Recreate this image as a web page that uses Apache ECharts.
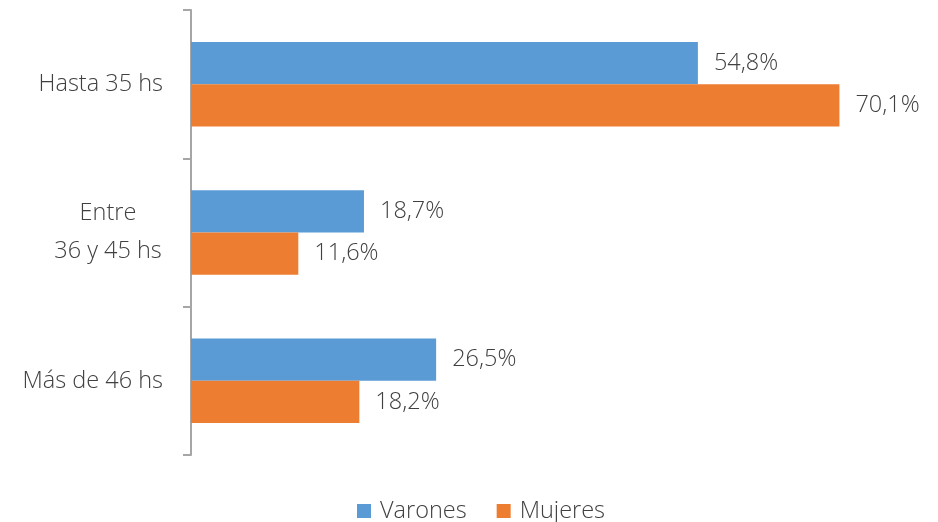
<!DOCTYPE html>
<html lang="es">
<head>
    <meta charset="UTF-8">
    <title>Horas trabajadas por sexo</title>
    <script src="https://cdn.jsdelivr.net/npm/echarts@6/dist/echarts.min.js"></script>
    <style>
        html, body { margin: 0; padding: 0; background: #fff; }
        #main { width: 938px; height: 522px; }
    </style>
</head>
<body>
<div id="main"></div>
<script>
    // datos
    const categories = ['Hasta 35 hs', 'Entre\n36 y 45 hs', 'Más de 46 hs'];
    const varones = [54.8, 18.7, 26.5];
    const mujeres = [70.1, 11.6, 18.2];
    const seriesNames = ['Varones', 'Mujeres'];

    const fontFam = "'Segoe UI', 'Open Sans', 'Noto Sans', sans-serif";
    const txtColor = '#404040';
    const fs = 23.5;

    const chart = echarts.init(document.getElementById('main'));

    const labelOpt = {
        show: true,
        position: 'right',
        distance: 16,
        fontSize: fs,
        fontWeight: 300,
        fontFamily: fontFam,
        color: txtColor,
        formatter: p => p.value.toFixed(1).replace('.', ',') + '%'
    };

    const option = {
        animation: false,
        grid: { left: 191, top: 10, bottom: 67, right: 7 },
        xAxis: {
            type: 'value',
            min: 0,
            max: 80,
            show: false
        },
        yAxis: {
            type: 'category',
            data: categories,
            inverse: true,
            axisLine: { show: true, lineStyle: { color: '#a6a6a6', width: 2 } },
            axisTick: { show: true, length: 8, lineStyle: { color: '#a6a6a6', width: 2 } },
            axisLabel: {
                margin: 28,
                fontSize: fs,
                fontWeight: 300,
                fontFamily: fontFam,
                color: txtColor,
                lineHeight: 38,
                formatter: v => v.indexOf('\n') >= 0
                    ? v.split('\n').map(s => '{c|' + s + '}').join('\n')
                    : v,
                rich: {
                    c: { width: 110, align: 'center', fontSize: fs, fontWeight: 300, fontFamily: fontFam, color: txtColor, lineHeight: 38 }
                }
            }
        },
        legend: {
            bottom: -6,
            left: 352,
            itemWidth: 14,
            itemHeight: 14,
            itemGap: 30,
            icon: 'rect',
            textStyle: { fontSize: fs, fontWeight: 300, fontFamily: fontFam, color: txtColor, padding: [0, 0, 0, 4] },
            data: seriesNames
        },
        series: [
            {
                name: seriesNames[0],
                type: 'bar',
                data: varones,
                barGap: '0%',
                barCategoryGap: '43%',
                itemStyle: { color: '#5b9bd5' },
                label: labelOpt
            },
            {
                name: seriesNames[1],
                type: 'bar',
                data: mujeres,
                barGap: '0%',
                barCategoryGap: '43%',
                itemStyle: { color: '#ed7d31' },
                label: labelOpt
            }
        ]
    };

    chart.setOption(option);
</script>
</body>
</html>
